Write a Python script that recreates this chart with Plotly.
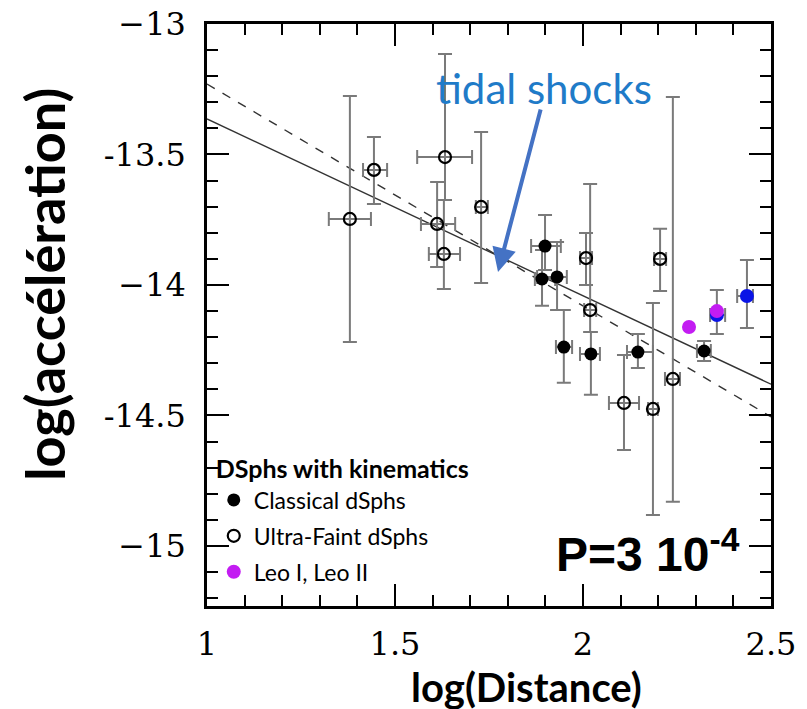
import plotly.graph_objects as go

# ---------------- data ----------------
# Ultra-faint dSphs (open circles)
uf_x    = [1.380, 1.444, 1.633, 1.612, 1.630, 1.729, 2.008, 2.019, 2.205, 2.109, 2.186, 2.239]
uf_y    = [-13.747, -13.559, -13.510, -13.766, -13.881, -13.701, -13.897, -14.096, -13.900, -14.452, -14.475, -14.360]
uf_yhi  = [-13.276, -13.433, -13.115, -13.605, -13.674, -13.414, -13.801, -13.613, -13.785, -14.268, -14.069, -13.280]
uf_ylo  = [-14.218, -13.690, -13.674, -13.931, -14.015, -13.992, -14.000, -14.180, -14.023, -14.632, -14.881, -14.831]
uf_xlo  = [1.324, 1.415, 1.559, 1.569, 1.590, 1.715, 1.992, 2.003, 2.189, 2.069, 2.173, 2.218]
uf_xhi  = [1.436, 1.479, 1.705, 1.660, 1.673, 1.747, 2.024, 2.035, 2.221, 2.149, 2.199, 2.258]

# Classical dSphs (filled circles)
cl_x    = [1.899, 1.891, 1.931, 1.949, 2.021, 2.146, 2.322]
cl_y    = [-13.851, -13.977, -13.969, -14.238, -14.264, -14.257, -14.253]
cl_yhi  = [-13.732, -13.866, -13.835, -14.096, -14.180, -14.188, -14.215]
cl_ylo  = [-13.943, -14.080, -14.096, -14.375, -14.421, -14.318, -14.291]
cl_xlo  = [1.862, 1.872, 1.878, 1.928, 1.992, 2.117, 2.303]
cl_xhi  = [1.941, 1.926, 1.957, 1.971, 2.045, 2.186, 2.340]

# Blue points (Leo I / Leo II original values)
bl_x    = [2.356, 2.436]
bl_y    = [-14.115, -14.042]
bl_yhi  = [-14.019, -13.904]
bl_ylo  = [-14.188, -14.165]
bl_xlo  = [2.338, 2.410]
bl_xhi  = [2.378, 2.452]

# Leo I, Leo II (magenta)
leo_x   = [2.282, 2.356]
leo_y   = [-14.161, -14.100]

# Fit lines
fit_x        = [1.0, 2.5]
fit_solid_y  = [-13.364, -14.380]
fit_dashed_y = [-13.230, -14.505]

# Axis ticks
x_tickvals = [1, 1.5, 2, 2.5]
x_ticktext = ["1", "1.5", "2", "2.5"]
y_tickvals = [-15, -14.5, -14, -13.5, -13]
y_ticktext = ["\u221215", "-14.5", "\u221214", "-13.5", "\u221213"]

# ---------------- helpers ----------------
def plus(hi, v):
    return [h - c for h, c in zip(hi, v)]

def minus(lo, v):
    return [c - l for l, c in zip(lo, v)]

ERR = "#7a7a7a"

def err_y(yv, hi, lo):
    return dict(type="data", symmetric=False, array=plus(hi, yv), arrayminus=minus(lo, yv),
                color=ERR, thickness=2, width=7)

def err_x(xv, hi, lo):
    return dict(type="data", symmetric=False, array=plus(hi, xv), arrayminus=minus(lo, xv),
                color=ERR, thickness=2, width=7)

fig = go.Figure()

fig.add_trace(go.Scatter(x=fit_x, y=fit_dashed_y, mode="lines",
                         line=dict(color="#333333", width=1.4, dash="dash"), showlegend=False))
fig.add_trace(go.Scatter(x=fit_x, y=fit_solid_y, mode="lines",
                         line=dict(color="#333333", width=1.4), showlegend=False))

fig.add_trace(go.Scatter(x=cl_x, y=cl_y, mode="markers", name="Classical dSphs", legendgroup="a",
                         marker=dict(color="black", size=13, line=dict(width=0)),
                         error_y=err_y(cl_y, cl_yhi, cl_ylo), error_x=err_x(cl_x, cl_xhi, cl_xlo)))
fig.add_trace(go.Scatter(x=uf_x, y=uf_y, mode="markers", name="Ultra-Faint dSphs", legendgroup="b",
                         marker=dict(symbol="circle-open", color="black", size=12, line=dict(width=2.2, color="black")),
                         error_y=err_y(uf_y, uf_yhi, uf_ylo), error_x=err_x(uf_x, uf_xhi, uf_xlo)))
fig.add_trace(go.Scatter(x=bl_x, y=bl_y, mode="markers", showlegend=False,
                         marker=dict(color="#0a14e6", size=14, line=dict(width=0)),
                         error_y=err_y(bl_y, bl_yhi, bl_ylo), error_x=err_x(bl_x, bl_xhi, bl_xlo)))
fig.add_trace(go.Scatter(x=leo_x, y=leo_y, mode="markers", name="Leo I, Leo II", legendgroup="c",
                         marker=dict(color="#c31cf2", size=14, line=dict(width=0))))

axis_common = dict(showline=True, linecolor="black", linewidth=2.5, mirror="ticks",
                   ticks="inside", tickcolor="black", tickwidth=2, ticklen=22,
                   showgrid=False, zeroline=False, ticklabeloverflow="allow", automargin=False,
                   tickfont=dict(family="DejaVu Serif", size=32, color="black"))

fig.update_xaxes(range=[1.0, 2.5], tickmode="array", tickvals=x_tickvals, ticktext=x_ticktext,
                 ticklabelstandoff=8,
                 minor=dict(ticks="inside", dtick=0.1, tick0=1.0, ticklen=11, tickwidth=2, tickcolor="black"),
                 **axis_common)
fig.update_yaxes(range=[-15.23, -13.0], tickmode="array", tickvals=y_tickvals, ticktext=y_ticktext,
                 ticklabelstandoff=12,
                 minor=dict(ticks="inside", dtick=0.1, tick0=-13.0, ticklen=11, tickwidth=2, tickcolor="black"),
                 **axis_common)

annotations = [
    dict(text="log(accélération)", xref="paper", yref="paper", x=-0.287, y=0.552,
         textangle=-90, showarrow=False, xanchor="center", yanchor="middle",
         font=dict(family="Lato", size=54, color="black", weight="bold")),
    dict(text="log(Distance)", xref="paper", yref="paper", x=0.567, y=-0.139,
         showarrow=False, xanchor="center", yanchor="middle",
         font=dict(family="Lato", size=40, color="black", weight="bold")),
    dict(text="tidal shocks", xref="paper", yref="paper", x=0.598, y=0.890,
         showarrow=False, xanchor="center", yanchor="middle",
         font=dict(family="Lato", size=42, color="#1f7bc8")),
    dict(text="", x=1.774, y=-13.950, xref="x", yref="y", ax=43, ay=-164,
         showarrow=True, arrowhead=2, arrowsize=1.2, arrowwidth=4, arrowcolor="#4472c4", standoff=0),
    dict(text="P=3 10<sup>-4</sup>", xref="paper", yref="paper", x=0.948, y=0.095,
         showarrow=False, xanchor="right", yanchor="middle",
         font=dict(family="Liberation Sans", size=48, color="black", weight="bold")),
]

# The page adds an 8px body margin, so the margins below compensate for it.
fig.update_layout(
    width=807, height=709, autosize=False,
    margin=dict(l=199, r=44, t=16, b=111, autoexpand=False),
    paper_bgcolor="white", plot_bgcolor="white",
    annotations=annotations,
    legend=dict(x=0.012, y=0.275, xanchor="left", yanchor="top", bgcolor="rgba(0,0,0,0)",
                title=dict(text="<b>DSphs with kinematics</b>", font=dict(family="Lato", size=25, color="black")),
                font=dict(family="Lato", size=23, color="black"), tracegroupgap=3, itemwidth=30),
    shapes=[dict(type="line", xref="paper", yref="paper", x0=-0.36, x1=1.064, y0=1.036, y1=1.036,
                 line=dict(color="#c8c8c8", width=2))],
)

fig.write_html("out.html")
